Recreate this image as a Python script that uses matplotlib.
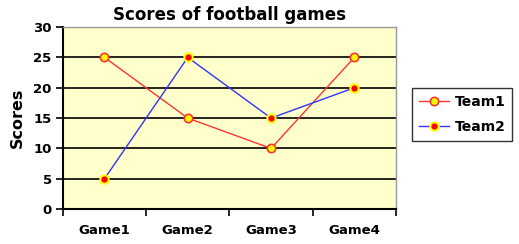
import matplotlib
matplotlib.use("Agg")
import matplotlib.pyplot as plt

games = ["Game1", "Game2", "Game3", "Game4"]
team1 = [25, 15, 10, 25]
team2 = [5, 25, 15, 20]


def main():
    fig = plt.figure(figsize=(5.19, 2.44), dpi=100)
    ax = fig.add_axes([0.121, 0.143, 0.642, 0.746])
    ax.set_facecolor("#ffffcc")

    x = list(range(len(games)))
    ax.plot(x, team1, color="#ff3333", lw=1, marker="o", ms=6,
            mfc="#ffff00", mec="#ff3333", mew=1.2, label="Team1", zorder=3)
    ax.plot(x, team2, color="#3333ff", lw=1, marker="o", ms=6,
            mfc="#ff0000", mec="#ffff00", mew=1.5, label="Team2", zorder=3)

    ax.set_xlim(-0.5, 3.5)
    ax.set_ylim(0, 30)
    ax.set_yticks(range(0, 31, 5))
    ax.set_xticks([-0.5, 0.5, 1.5, 2.5, 3.5])
    ax.set_xticklabels([])
    ax.set_xticks(x, minor=True)
    ax.set_xticklabels(games, minor=True)
    ax.tick_params(axis="x", which="minor", length=0, pad=11)
    ax.tick_params(axis="x", which="major", length=5, width=1.2, direction="out")
    ax.tick_params(axis="y", length=5, width=1.2, direction="out", pad=3)
    for lbl in ax.get_yticklabels() + ax.get_xticklabels(minor=True):
        lbl.set_fontweight("bold")
        lbl.set_fontsize(9.5)

    ax.grid(axis="y", color="black", lw=1.2)
    ax.set_axisbelow(True)
    for side in ["top", "right"]:
        ax.spines[side].set_color("#999999")
        ax.spines[side].set_linewidth(1)
    for side in ["left", "bottom"]:
        ax.spines[side].set_color("black")
        ax.spines[side].set_linewidth(1.5)

    ax.set_title("Scores of football games", fontsize=12, fontweight="bold", pad=5)
    ax.set_ylabel("Scores", fontsize=11.5, fontweight="bold", labelpad=6)

    leg = fig.legend(loc="upper left", bbox_to_anchor=(0.793, 0.64),
                     frameon=True, fancybox=False, edgecolor="black",
                     prop={"weight": "bold", "size": 10}, handlelength=2.2,
                     handletextpad=0.4, borderpad=0.5, borderaxespad=0,
                     labelspacing=0.8)
    leg.get_frame().set_linewidth(1)

    fig.savefig("out.png", dpi=100)


if __name__ == "__main__":
    main()
